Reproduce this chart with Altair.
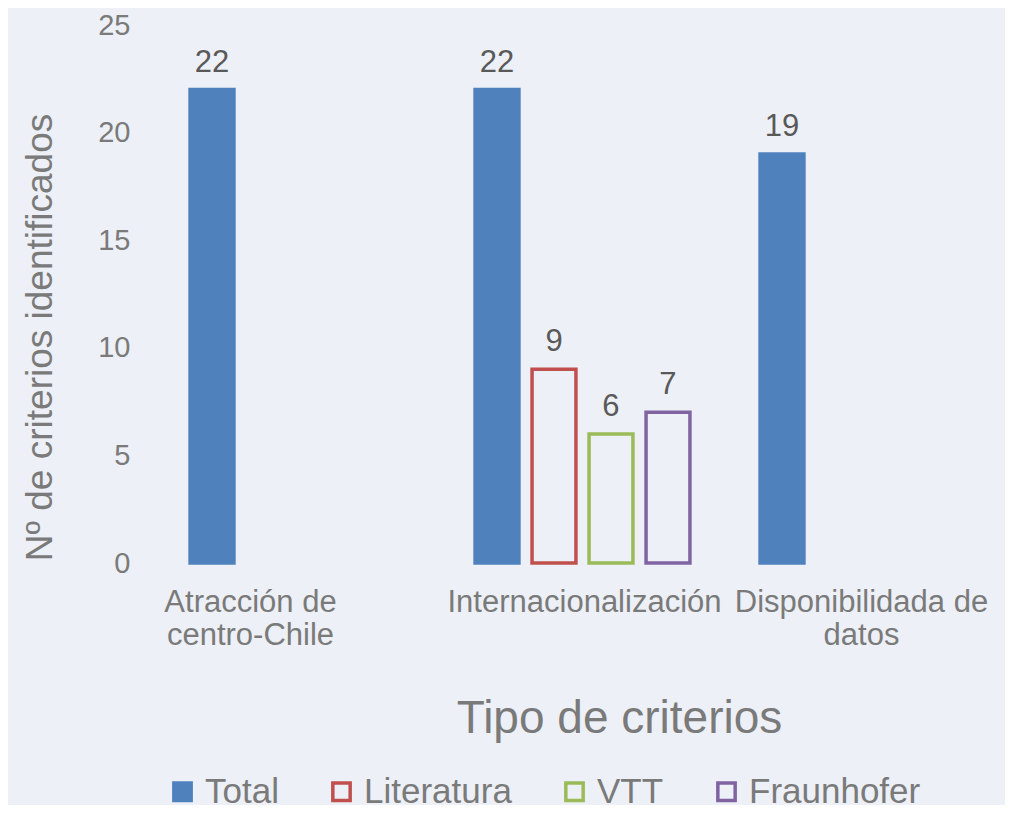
import altair as alt
import pandas as pd

categorias = ["Atracción de centro-Chile", "Internacionalización", "Disponibilidada de datos"]
series = ["Total", "Literatura", "VTT", "Fraunhofer"]
fila_categoria = ["Atracción de centro-Chile", "Internacionalización", "Internacionalización",
                  "Internacionalización", "Internacionalización", "Disponibilidada de datos"]
fila_serie = ["Total", "Total", "Literatura", "VTT", "Fraunhofer", "Total"]
fila_valor = [22, 22, 9, 6, 7, 19]

colores = ["#4F81BD", "#C0504D", "#9BBB59", "#8064A2"]
rellenos = ["#4F81BD", "transparent", "transparent", "transparent"]

df = pd.DataFrame({"categoria": fila_categoria, "serie": fila_serie, "valor": fila_valor})

FONT = "Liberation Sans, Arial, sans-serif"
GRIS = "#7a7a7a"

label_expr = ("datum.value == 'Atracción de centro-Chile' ? ['Atracción de', 'centro-Chile'] : "
              "datum.value == 'Disponibilidada de datos' ? ['Disponibilidada de', 'datos'] : datum.value")
offset_expr = ("datum.value == 'Atracción de centro-Chile' ? -47 : "
               "datum.value == 'Disponibilidada de datos' ? -6 : 2")

x_scale = alt.Scale(domain=categorias, paddingInner=0.2, paddingOuter=0.0825)
y_scale = alt.Scale(domain=[0, 25], nice=False)
xoff_scale = alt.Scale(domain=series, paddingInner=0.23, paddingOuter=0.115)

x_enc = alt.X("categoria:N", sort=categorias, scale=x_scale,
              axis=alt.Axis(title="Tipo de criterios", labelAngle=0, labelExpr=label_expr,
                            labelOffset=alt.expr(offset_expr), labelLimit=0,
                            labelFontSize=31, labelColor=GRIS, labelFont=FONT,
                            labelPadding=24, labelLineHeight=33, labelBaseline="top",
                            domain=False, ticks=False, grid=False,
                            titleFontSize=46, titleFont=FONT, titleColor=GRIS,
                            titleFontWeight="normal", titleX=459, titleY=155,
                            titleAlign="center", titleBaseline="middle"))
y_enc = alt.Y("valor:Q", scale=y_scale,
              axis=alt.Axis(title="Nº de criterios identificados", values=[0, 5, 10, 15, 20, 25],
                            labelFontSize=29, labelColor=GRIS, labelFont=FONT, labelPadding=30,
                            domain=False, ticks=False, grid=False,
                            titleFontSize=37, titleFont=FONT, titleColor=GRIS,
                            titleFontWeight="normal", titleX=-120, titleY=312,
                            titleAlign="center", titleBaseline="middle", titleLimit=0))

leyenda = alt.Legend(title=None, orient="none", legendX=5, legendY=749, padding=0,
                     direction="horizontal", symbolType="square",
                     symbolSize=300, symbolStrokeWidth=3.5,
                     labelFontSize=35, labelFont=FONT, labelColor=GRIS, labelLimit=0,
                     labelOffset=5, columnPadding=45)

bars = alt.Chart(df).mark_bar(strokeWidth=3.5).encode(
    x=x_enc,
    xOffset=alt.XOffset("serie:N", sort=series, scale=xoff_scale),
    y=y_enc,
    fill=alt.Fill("serie:N", sort=series, scale=alt.Scale(domain=series, range=rellenos),
                  legend=leyenda),
    stroke=alt.Stroke("serie:N", sort=series, scale=alt.Scale(domain=series, range=colores),
                      legend=leyenda),
)

labels = alt.Chart(df).mark_text(fontSize=31, font=FONT, color="#595959",
                                 baseline="bottom", dy=-11).encode(
    x=alt.X("categoria:N", sort=categorias, scale=x_scale),
    xOffset=alt.XOffset("serie:N", sort=series, scale=xoff_scale),
    y=alt.Y("valor:Q", scale=y_scale),
    text="valor:Q",
)

chart = alt.layer(bars, labels).properties(
    width=845, height=538,
    autosize=alt.AutoSizeParams(type="none"),
    padding={"left": 152, "top": 17, "right": 0, "bottom": 242},
    background="#edf0f6",
).configure_view(stroke=None)

chart.save("out.html", embed_options={"renderer": "svg", "actions": False})
